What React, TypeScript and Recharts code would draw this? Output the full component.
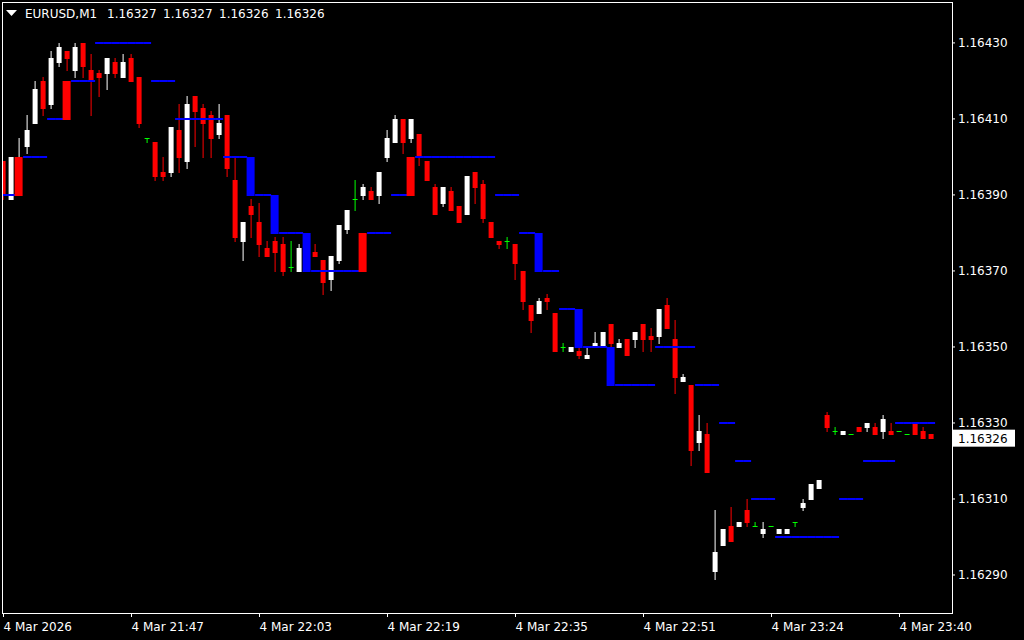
import React from 'react';
import { ComposedChart, Bar, XAxis, YAxis, ReferenceLine } from 'recharts';

const SYMBOL = 'EURUSD,M1';
const FONT = '"DejaVu Sans", sans-serif';

const TIME_TICKS = [0, 16, 32, 48, 64, 80, 96, 112];
const TIME_LABELS = [
  '4 Mar 2026', '4 Mar 21:47', '4 Mar 22:03', '4 Mar 22:19',
  '4 Mar 22:35', '4 Mar 22:51', '4 Mar 23:24', '4 Mar 23:40',
];
const PRICE_TICKS = [1.1629, 1.1631, 1.1633, 1.1635, 1.1637, 1.1639, 1.1641, 1.1643];

// one-minute candles, oldest first
const OPEN = [
  1.16399, 1.16389, 1.16391, 1.16403, 1.16409, 1.16420, 1.16414, 1.16425, 1.16428, 1.16423,
  1.16430, 1.16423, 1.16422, 1.16422, 1.16425, 1.16421, 1.16426, 1.16421, 1.16405, 1.16404,
  1.16396, 1.16396, 1.16407, 1.16399, 1.16416, 1.16413, 1.16411, 1.16406, 1.16411, 1.16394,
  1.16378, 1.16387, 1.16383, 1.16376, 1.16378, 1.16377, 1.16371, 1.16370, 1.16376, 1.16375,
  1.16373, 1.16368, 1.16373, 1.16381, 1.16389, 1.16390, 1.16391, 1.16390, 1.16400, 1.16404,
  1.16410, 1.16405, 1.16406, 1.16399, 1.16392, 1.16388, 1.16391, 1.16387, 1.16385, 1.16396,
  1.16393, 1.16383, 1.16378, 1.16378, 1.16377, 1.16370, 1.16361, 1.16359, 1.16363, 1.16359,
  1.16350, 1.16349, 1.16349, 1.16347, 1.16350, 1.16350, 1.16356, 1.16350, 1.16352, 1.16352,
  1.16356, 1.16353, 1.16353, 1.16361, 1.16352, 1.16341, 1.16340, 1.16325, 1.16327, 1.16291,
  1.16298, 1.16303, 1.16303, 1.16307, 1.16303, 1.16301, 1.16303, 1.16301, 1.16301, 1.16304,
  1.16308, 1.16310, 1.16313, 1.16332, 1.16328, 1.16327, 1.16327, 1.16329, 1.16329, 1.16329,
  1.16328, 1.16328, 1.16328, 1.16327, 1.16330, 1.16328, 1.16327,
];
const HIGH = [
  1.16399, 1.16400, 1.16405, 1.16411, 1.16420, 1.16421, 1.16428, 1.16430, 1.16428, 1.16430,
  1.16430, 1.16427, 1.16423, 1.16426, 1.16426, 1.16427, 1.16427, 1.16421, 1.16405, 1.16404,
  1.16400, 1.16408, 1.16414, 1.16416, 1.16416, 1.16414, 1.16412, 1.16414, 1.16411, 1.16400,
  1.16383, 1.16389, 1.16388, 1.16378, 1.16379, 1.16379, 1.16378, 1.16377, 1.16378, 1.16377,
  1.16373, 1.16374, 1.16382, 1.16386, 1.16394, 1.16393, 1.16392, 1.16396, 1.16407, 1.16411,
  1.16410, 1.16410, 1.16406, 1.16399, 1.16393, 1.16392, 1.16392, 1.16387, 1.16395, 1.16396,
  1.16394, 1.16383, 1.16378, 1.16379, 1.16377, 1.16370, 1.16361, 1.16363, 1.16364, 1.16359,
  1.16351, 1.16350, 1.16350, 1.16350, 1.16354, 1.16354, 1.16356, 1.16352, 1.16352, 1.16354,
  1.16356, 1.16355, 1.16360, 1.16363, 1.16357, 1.16343, 1.16340, 1.16332, 1.16330, 1.16307,
  1.16302, 1.16308, 1.16304, 1.16310, 1.16304, 1.16304, 1.16303, 1.16302, 1.16302, 1.16304,
  1.16310, 1.16314, 1.16315, 1.16333, 1.16329, 1.16328, 1.16327, 1.16329, 1.16330, 1.16330,
  1.16332, 1.16330, 1.16328, 1.16327, 1.16330, 1.16329, 1.16327,
];
const LOW = [
  1.16389, 1.16389, 1.16390, 1.16401, 1.16409, 1.16411, 1.16413, 1.16424, 1.16423, 1.16421,
  1.16421, 1.16411, 1.16416, 1.16418, 1.16421, 1.16421, 1.16420, 1.16408, 1.16404, 1.16394,
  1.16394, 1.16395, 1.16396, 1.16397, 1.16403, 1.16400, 1.16400, 1.16405, 1.16395, 1.16378,
  1.16373, 1.16379, 1.16374, 1.16374, 1.16370, 1.16369, 1.16370, 1.16370, 1.16371, 1.16374,
  1.16364, 1.16365, 1.16372, 1.16380, 1.16386, 1.16389, 1.16389, 1.16388, 1.16399, 1.16404,
  1.16401, 1.16404, 1.16398, 1.16394, 1.16385, 1.16387, 1.16386, 1.16383, 1.16385, 1.16388,
  1.16383, 1.16379, 1.16376, 1.16376, 1.16368, 1.16360, 1.16354, 1.16359, 1.16360, 1.16349,
  1.16349, 1.16349, 1.16347, 1.16347, 1.16350, 1.16350, 1.16350, 1.16350, 1.16348, 1.16350,
  1.16349, 1.16349, 1.16351, 1.16355, 1.16338, 1.16341, 1.16319, 1.16323, 1.16317, 1.16289,
  1.16298, 1.16299, 1.16303, 1.16303, 1.16303, 1.16300, 1.16303, 1.16301, 1.16301, 1.16303,
  1.16307, 1.16310, 1.16313, 1.16328, 1.16327, 1.16327, 1.16327, 1.16328, 1.16328, 1.16327,
  1.16326, 1.16327, 1.16328, 1.16327, 1.16327, 1.16326, 1.16326,
];
const CLOSE = [
  1.16390, 1.16400, 1.16399, 1.16407, 1.16418, 1.16413, 1.16426, 1.16429, 1.16426, 1.16429,
  1.16424, 1.16420, 1.16421, 1.16426, 1.16422, 1.16425, 1.16420, 1.16409, 1.16405, 1.16395,
  1.16395, 1.16408, 1.16400, 1.16414, 1.16412, 1.16409, 1.16405, 1.16409, 1.16397, 1.16379,
  1.16383, 1.16385, 1.16377, 1.16374, 1.16375, 1.16370, 1.16371, 1.16376, 1.16373, 1.16374,
  1.16367, 1.16374, 1.16382, 1.16386, 1.16389, 1.16392, 1.16389, 1.16396, 1.16405, 1.16410,
  1.16404, 1.16410, 1.16400, 1.16394, 1.16385, 1.16392, 1.16386, 1.16383, 1.16395, 1.16392,
  1.16384, 1.16379, 1.16377, 1.16378, 1.16372, 1.16362, 1.16357, 1.16362, 1.16362, 1.16349,
  1.16350, 1.16350, 1.16348, 1.16348, 1.16351, 1.16354, 1.16351, 1.16351, 1.16348, 1.16354,
  1.16352, 1.16352, 1.16360, 1.16355, 1.16342, 1.16342, 1.16323, 1.16328, 1.16317, 1.16296,
  1.16302, 1.16299, 1.16304, 1.16304, 1.16303, 1.16302, 1.16303, 1.16302, 1.16302, 1.16304,
  1.16309, 1.16314, 1.16315, 1.16329, 1.16328, 1.16328, 1.16327, 1.16328, 1.16330, 1.16327,
  1.16331, 1.16327, 1.16328, 1.16327, 1.16327, 1.16326, 1.16326,
];

// blue step-level indicator, null where the level jumps (drawn as a bar instead)
const LEVEL = [
  1.1639, 1.1639, null, 1.1640, 1.1640, 1.1640, 1.1641, 1.1641, null, 1.1642,
  1.1642, 1.1642, 1.1643, 1.1643, 1.1643, 1.1643, 1.1643, 1.1643, 1.1643, 1.1642,
  1.1642, 1.1642, 1.1641, 1.1641, 1.1641, 1.1641, 1.1641, 1.1641, 1.1640, 1.1640,
  1.1640, null, 1.1639, 1.1639, null, 1.1638, 1.1638, 1.1638, null, 1.1637,
  1.1637, 1.1637, 1.1637, 1.1637, 1.1637, null, 1.1638, 1.1638, 1.1638, 1.1639,
  1.1639, null, 1.1640, 1.1640, 1.1640, 1.1640, 1.1640, 1.1640, 1.1640, 1.1640,
  1.1640, 1.1640, 1.1639, 1.1639, 1.1639, 1.1638, 1.1638, null, 1.1637, 1.1637,
  1.1636, 1.1636, null, 1.1635, 1.1635, 1.1635, null, 1.1634, 1.1634, 1.1634,
  1.1634, 1.1634, 1.1635, 1.1635, 1.1635, 1.1635, 1.1635, 1.1634, 1.1634, 1.1634,
  1.1633, 1.1633, 1.1632, 1.1632, 1.1631, 1.1631, 1.1631, 1.1630, 1.1630, 1.1630,
  1.1630, 1.1630, 1.1630, 1.1630, 1.1630, 1.1631, 1.1631, 1.1631, 1.1632, 1.1632,
  1.1632, 1.1632, 1.1633, 1.1633, 1.1633, 1.1633, 1.1633,
];
const STEP_SLOTS = [2, 8, 31, 34, 38, 45, 51, 67, 72, 76];
const STEP_FROM = [1.1639, 1.1641, 1.1640, 1.1639, 1.1638, 1.1637, 1.1639, 1.1638, 1.1636, 1.1635];
const STEP_TO = [1.1640, 1.1642, 1.1639, 1.1638, 1.1637, 1.1638, 1.1640, 1.1637, 1.1635, 1.1634];

const BULL = '#ffffff';
const BEAR = '#ff0000';
const DOJI = '#00ff00';
const LEVEL_COLOR = '#0000ff';

const LAST = OPEN.length - 1;

const rows = OPEN.map((o, i) => {
  const s = STEP_SLOTS.indexOf(i);
  const stepFrom = s >= 0 ? STEP_FROM[s] : null;
  const stepTo = s >= 0 ? STEP_TO[s] : null;
  const vals = [HIGH[i], LOW[i]];
  if (LEVEL[i] != null) vals.push(LEVEL[i] as number);
  if (stepFrom != null) vals.push(stepFrom, stepTo as number);
  return {
    i, o, h: HIGH[i], l: LOW[i], c: CLOSE[i], level: LEVEL[i], stepFrom, stepTo,
    range: [Math.min(...vals), Math.max(...vals)],
  };
});

// draws candle, level segment and step bar of one slot inside the bar's price range
const renderSlot = (props: any) => {
  const { x, y, width, height, payload } = props;
  if (payload == null || x == null) return <g />;
  const [lo, hi] = payload.range;
  const top = Math.min(y, y + height);
  const h = Math.abs(height);
  const py = (p: number) => Math.round(hi - lo > 0 ? top + ((hi - p) / (hi - lo)) * h : top);
  const cx = x + width / 2;
  const { o, c } = payload;
  const color = c > o ? BULL : c < o ? BEAR : DOJI;
  const yH = py(payload.h);
  const yL = py(payload.l);
  const bTop = py(Math.max(o, c));
  const bBot = py(Math.min(o, c));
  return (
    <g>
      {yL > yH && <rect x={cx - 0.5} y={yH} width={1} height={yL - yH + 1} fill={color} />}
      <rect x={cx - 2.5} y={bTop} width={5} height={o === c ? 1 : bBot - bTop + 1} fill={color} />
      {payload.level != null && (
        <rect x={cx - 4} y={py(payload.level) - 1} width={8} height={2} fill={LEVEL_COLOR} />
      )}
      {payload.stepFrom != null && (
        <rect
          x={cx - 4.5}
          y={py(Math.max(payload.stepFrom, payload.stepTo))}
          width={8}
          height={py(Math.min(payload.stepFrom, payload.stepTo)) - py(Math.max(payload.stepFrom, payload.stepTo)) + 1}
          fill={payload.stepTo > payload.stepFrom ? BEAR : LEVEL_COLOR}
        />
      )}
    </g>
  );
};

const TimeTick = ({ x, y, payload }: any) => {
  const idx = TIME_TICKS.indexOf(payload.value);
  return (
    <text x={x} y={y} dy={12} fill="#fff" fontSize={12} fontFamily={FONT} textAnchor="start">
      {TIME_LABELS[idx]}
    </text>
  );
};

const PriceTag = ({ viewBox }: any) => {
  if (!viewBox) return null;
  const xr = viewBox.x + viewBox.width;
  const yy = viewBox.y;
  return (
    <g>
      <rect x={xr + 1} y={yy - 8.5} width={62} height={17} fill="#ffffff" />
      <text x={xr + 6} y={yy + 4.5} fill="#000" fontSize={12} fontFamily={FONT}>
        {CLOSE[LAST].toFixed(5)}
      </text>
    </g>
  );
};

export default function App() {
  const ohlc = [OPEN[LAST], HIGH[LAST], LOW[LAST], CLOSE[LAST]];
  return (
    <div style={{ position: 'fixed', left: 0, top: 0, width: 1024, height: 640, background: '#000', overflow: 'hidden' }}>
      <ComposedChart width={1024} height={640} data={rows} margin={{ top: 3, right: 0, bottom: 0, left: 3 }}>
        <XAxis
          dataKey="i"
          type="number"
          domain={[-0.0625, 118.5625]}
          allowDataOverflow
          ticks={TIME_TICKS}
          height={27}
          axisLine={false}
          tickLine={{ stroke: '#fff' }}
          tickSize={4}
          tickMargin={2}
          tick={<TimeTick />}
          interval={0}
        />
        <YAxis
          orientation="right"
          type="number"
          domain={[1.1628, 1.164405]}
          allowDataOverflow
          ticks={PRICE_TICKS}
          width={72}
          axisLine={false}
          tickLine={{ stroke: '#fff' }}
          tickSize={3}
          tickMargin={3}
          tickFormatter={(v: number) => v.toFixed(5)}
          tick={{ fill: '#fff', fontSize: 12, fontFamily: FONT }}
          interval={0}
        />
        <Bar dataKey="range" barSize={8} shape={renderSlot} isAnimationActive={false} />
        <ReferenceLine y={CLOSE[LAST]} stroke="none" label={(p: any) => <PriceTag viewBox={p.viewBox} />} />
      </ComposedChart>
      <div style={{ position: 'absolute', left: 2, top: 2, width: 949, height: 610, border: '1px solid #fff', pointerEvents: 'none' }} />
      <svg width={400} height={24} style={{ position: 'absolute', left: 0, top: 0, pointerEvents: 'none' }}>
        <polygon points="6,10 17,10 11.5,16" fill="#fff" />
        <text x={25} y={18} fill="#fff" fontSize={12} fontFamily={FONT}>{SYMBOL}</text>
        {ohlc.map((v, j) => (
          <text key={j} x={107 + 56 * j} y={18} fill="#fff" fontSize={12} fontFamily={FONT}>{v.toFixed(5)}</text>
        ))}
      </svg>
    </div>
  );
}
